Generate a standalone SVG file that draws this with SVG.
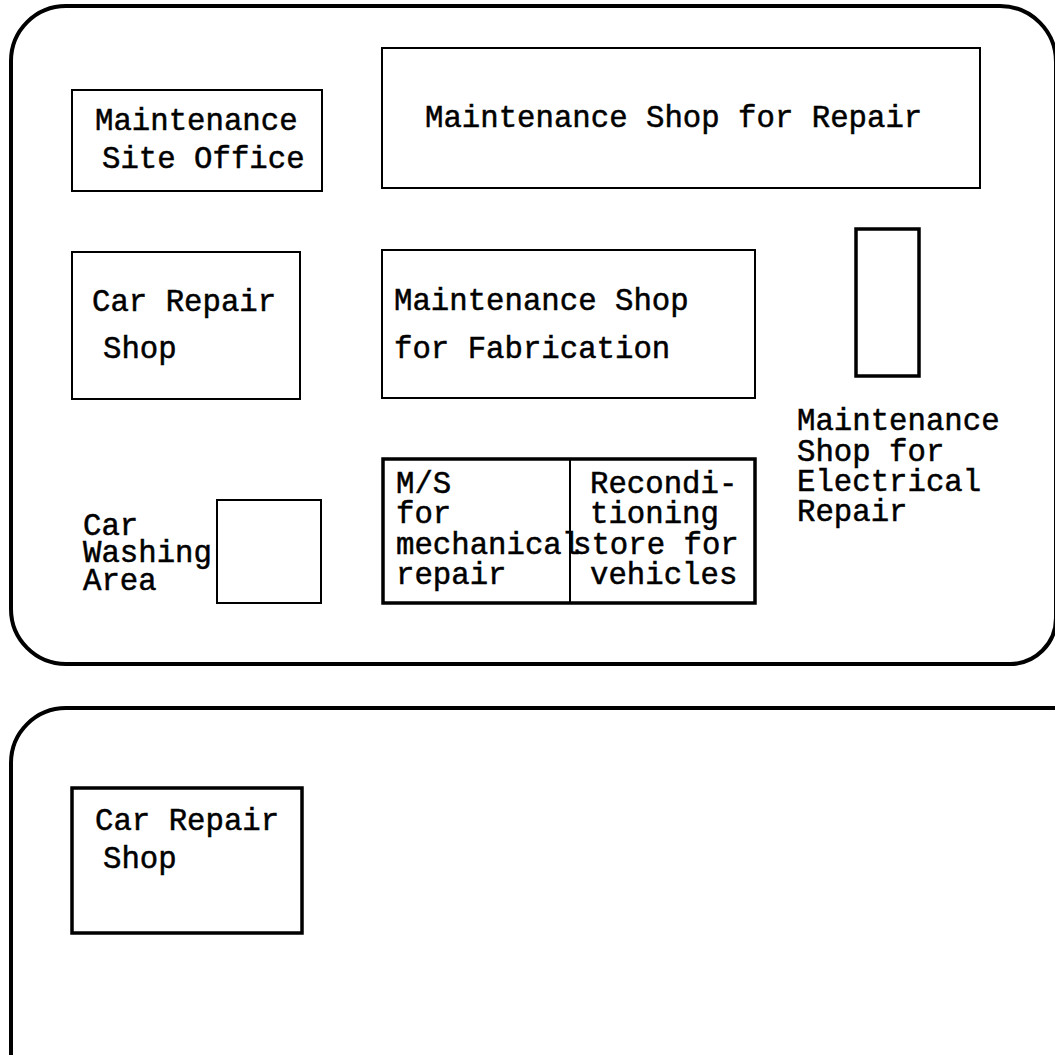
<svg xmlns="http://www.w3.org/2000/svg" width="1055" height="1055" viewBox="0 0 1055 1055">
<style>
.frame{fill:none;stroke:#000;stroke-width:4}
.box{fill:none;stroke:#000;stroke-width:2}
.thick{fill:none;stroke:#000;stroke-width:3.5}
text{font-family:"Liberation Mono","DejaVu Sans Mono",monospace;font-size:30.7px;fill:#000;stroke:#000;stroke-width:0.5}
</style>
<rect width="1055" height="1055" fill="#fff"/>
<g id="site-top">
<path class="frame" d="M66,6 H1000 A56,56 0 0 1 1056,62 V618 A46,46 0 0 1 1010,664 H66 A55,55 0 0 1 11,609 V61 A55,55 0 0 1 66,6 Z"/>
</g>
<g id="site-bottom">
<path class="frame" d="M11,1060 V763 A55,55 0 0 1 66,708 H1060"/>
</g>
<g id="site-office">
<rect class="box" x="72" y="90" width="250" height="101"/>
<text x="95" y="130">Maintenance</text>
<text x="102" y="168">Site Office</text>
</g>
<g id="shop-repair">
<rect class="box" x="382" y="48" width="598" height="140"/>
<text x="425" y="127">Maintenance Shop for Repair</text>
</g>
<g id="car-repair-top">
<rect class="box" x="72" y="252" width="228" height="147"/>
<text x="92" y="311">Car Repair</text>
<text x="103" y="358">Shop</text>
</g>
<g id="shop-fabrication">
<rect class="box" x="382" y="250" width="373" height="148"/>
<text x="394" y="310">Maintenance Shop</text>
<text x="394" y="358">for Fabrication</text>
</g>
<g id="shop-electrical">
<rect class="thick" x="856" y="229" width="63" height="147"/>
<text x="797" y="430">Maintenance</text>
<text x="797" y="461">Shop for</text>
<text x="797" y="491">Electrical</text>
<text x="797" y="521">Repair</text>
</g>
<g id="car-washing">
<rect class="box" x="217" y="500" width="104" height="103"/>
<text x="83" y="535">Car</text>
<text x="83" y="562">Washing</text>
<text x="83" y="590">Area</text>
</g>
<g id="mechanical-store">
<rect class="thick" x="383" y="459" width="372" height="144"/>
<line x1="570" y1="459" x2="570" y2="603" stroke="#000" stroke-width="2"/>
<text x="396" y="493">M/S</text>
<text x="396" y="523">for</text>
<text x="396" y="554">mechanical</text>
<text x="396" y="584">repair</text>
<text x="590" y="493">Recondi-</text>
<text x="590" y="523">tioning</text>
<text x="573" y="554">store for</text>
<text x="590" y="584">vehicles</text>
</g>
<g id="car-repair-bottom">
<rect class="thick" x="72" y="788" width="230" height="145"/>
<text x="95" y="830">Car Repair</text>
<text x="103" y="868">Shop</text>
</g>
<g id="connectors"></g>
</svg>
